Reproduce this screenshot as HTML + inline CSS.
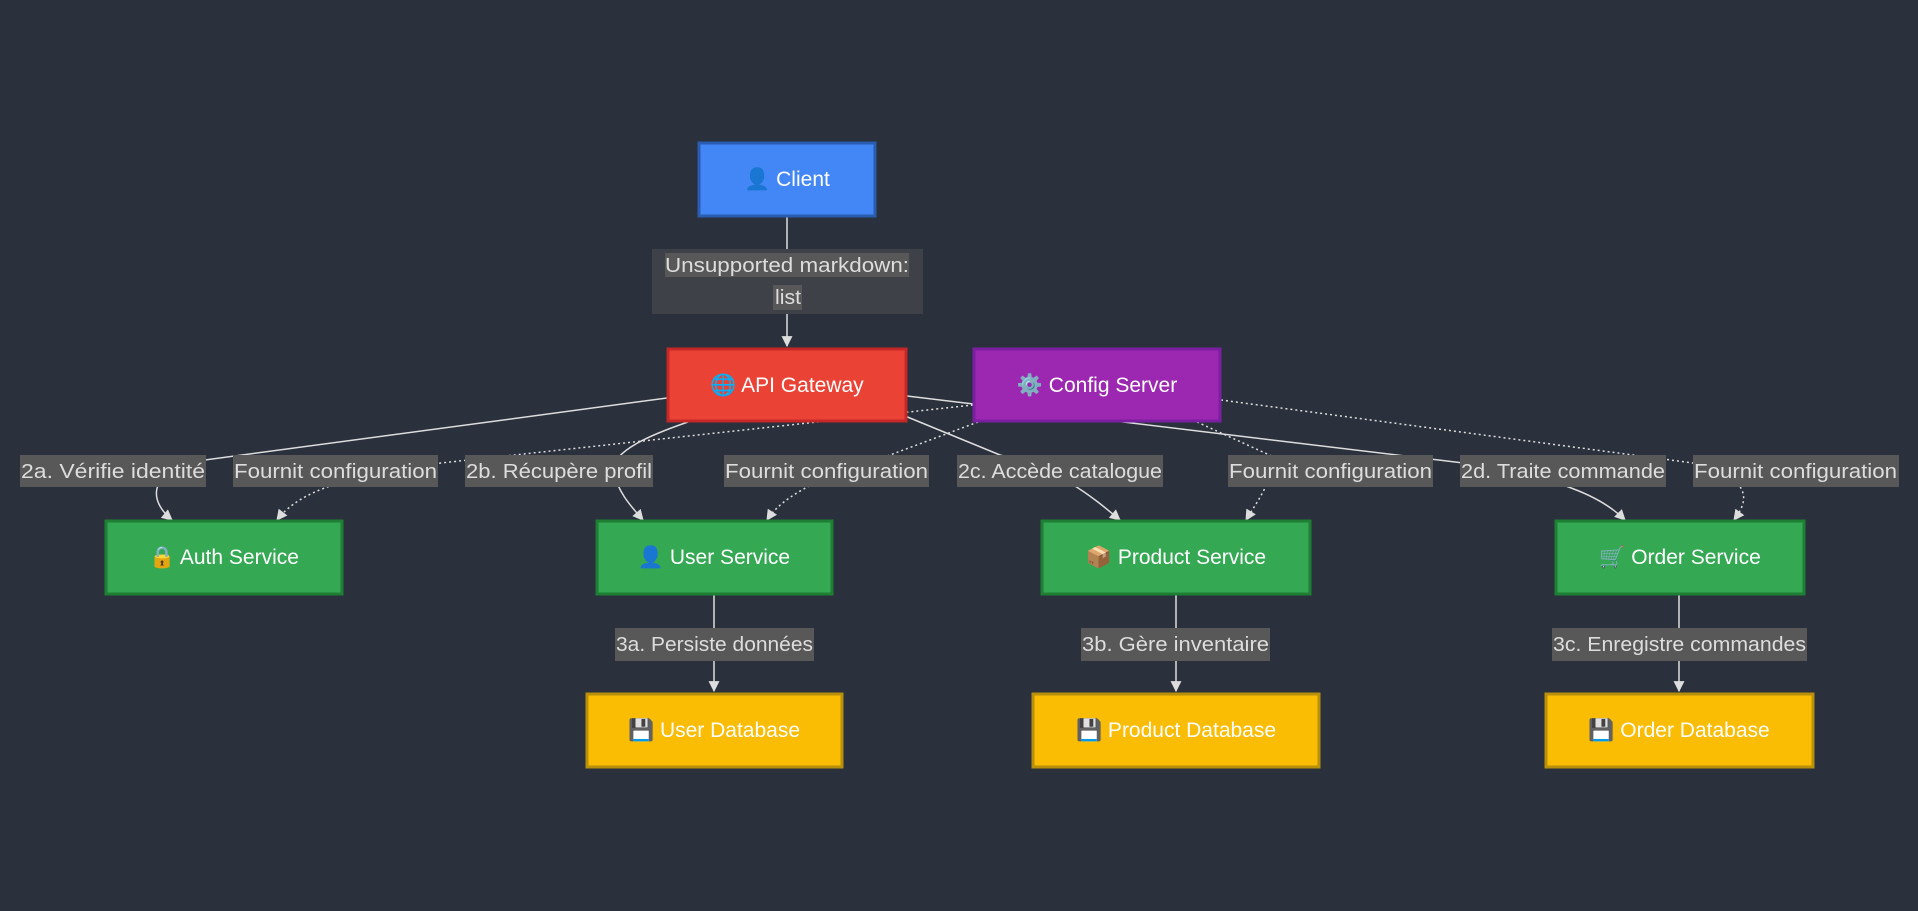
<!DOCTYPE html>
<html><head><meta charset="utf-8"><style>
html,body{margin:0;padding:0;background:#2a303c;}
svg{display:block}
text{font-family:"Liberation Sans","Noto Sans CJK SC",sans-serif;}
</style></head><body>
<svg width="1918" height="911" viewBox="0 0 1918 911" xmlns="http://www.w3.org/2000/svg">
<defs>
<marker id="a" viewBox="0 0 10 10" refX="9" refY="5" markerWidth="13" markerHeight="11" orient="auto-start-reverse" markerUnits="userSpaceOnUse"><path d="M0,0L10,5L0,10z" fill="#ddd"/></marker>
</defs>
<rect width="1918" height="911" fill="#2a303c"/>
<g fill="none" stroke="#ddd" stroke-width="1.5">
<path d="M787,216 L787,346" marker-end="url(#a)"/>
<path d="M667,398 L190,462 C150,475 148,500 172,520" marker-end="url(#a)"/>
<path d="M688,422 C650,435 615,450 612,470 C620,495 630,505 643,520" marker-end="url(#a)"/>
<path d="M905,416 L1000,455 C1060,470 1090,495 1120,520" marker-end="url(#a)"/>
<path d="M907,396 L1480,465 C1560,480 1600,495 1625,520" marker-end="url(#a)"/>
<path d="M714,595 L714,691" marker-end="url(#a)"/>
<path d="M1176,595 L1176,691" marker-end="url(#a)"/>
<path d="M1679,595 L1679,691" marker-end="url(#a)"/>
</g>
<g fill="none" stroke="#ddd" stroke-width="1.5" stroke-dasharray="2,3">
<path d="M973,405 L441,463 C350,475 300,490 277,520" marker-end="url(#a)"/>
<path d="M978,422 L882,458 C810,480 780,500 767,520" marker-end="url(#a)"/>
<path d="M1197,422 L1276,458 C1270,485 1255,505 1246,520" marker-end="url(#a)"/>
<path d="M1221,400 L1693,463 C1760,480 1745,505 1734,520" marker-end="url(#a)"/>
</g>
<g stroke-width="3">
<rect x="699" y="143" width="176" height="73" fill="#4287f5" stroke="#2a5cb0"/>
<rect x="668" y="349" width="238" height="72" fill="#ea4335" stroke="#c62828"/>
<rect x="974" y="349" width="246" height="72" fill="#9c27b0" stroke="#7b1fa2"/>
<rect x="106" y="521" width="236" height="73" fill="#34a853" stroke="#1e7e34"/>
<rect x="597" y="521" width="235" height="73" fill="#34a853" stroke="#1e7e34"/>
<rect x="1042" y="521" width="268" height="73" fill="#34a853" stroke="#1e7e34"/>
<rect x="1556" y="521" width="248" height="73" fill="#34a853" stroke="#1e7e34"/>
<rect x="587" y="694" width="255" height="73" fill="#fbbc04" stroke="#b8900a"/>
<rect x="1033" y="694" width="286" height="73" fill="#fbbc04" stroke="#b8900a"/>
<rect x="1546" y="694" width="267" height="73" fill="#fbbc04" stroke="#b8900a"/>
</g>
<rect x="652" y="249" width="271" height="65" fill="#3f4148"/>
<rect x="665" y="253" width="244" height="24" fill="#585858"/>
<rect x="773" y="285" width="29" height="25" fill="#585858"/>
<g fill="#585858">
<rect x="20" y="455" width="186" height="32"/>
<rect x="233" y="455" width="205" height="32"/>
<rect x="465" y="455" width="188" height="32"/>
<rect x="724" y="455" width="205" height="32"/>
<rect x="957" y="455" width="206" height="32"/>
<rect x="1228" y="455" width="205" height="32"/>
<rect x="1460" y="455" width="206" height="32"/>
<rect x="1693" y="455" width="206" height="32"/>
<rect x="615" y="628" width="199" height="33"/>
<rect x="1081" y="628" width="189" height="33"/>
<rect x="1552" y="628" width="255" height="33"/>
</g>
<g fill="#ddd" font-size="20">
<text x="665" y="272" textLength="244" lengthAdjust="spacingAndGlyphs">Unsupported markdown:</text>
<text x="775" y="304" textLength="26" lengthAdjust="spacingAndGlyphs">list</text>
<text x="21" y="478" textLength="184" lengthAdjust="spacingAndGlyphs">2a. Vérifie identité</text>
<text x="234" y="478" textLength="203" lengthAdjust="spacingAndGlyphs">Fournit configuration</text>
<text x="466" y="478" textLength="186" lengthAdjust="spacingAndGlyphs">2b. Récupère profil</text>
<text x="725" y="478" textLength="203" lengthAdjust="spacingAndGlyphs">Fournit configuration</text>
<text x="958" y="478" textLength="204" lengthAdjust="spacingAndGlyphs">2c. Accède catalogue</text>
<text x="1229" y="478" textLength="203" lengthAdjust="spacingAndGlyphs">Fournit configuration</text>
<text x="1461" y="478" textLength="204" lengthAdjust="spacingAndGlyphs">2d. Traite commande</text>
<text x="1694" y="478" textLength="203" lengthAdjust="spacingAndGlyphs">Fournit configuration</text>
<text x="616" y="651" textLength="197" lengthAdjust="spacingAndGlyphs">3a. Persiste données</text>
<text x="1082" y="651" textLength="187" lengthAdjust="spacingAndGlyphs">3b. Gère inventaire</text>
<text x="1553" y="651" textLength="253" lengthAdjust="spacingAndGlyphs">3c. Enregistre commandes</text>
</g>
<g fill="#fff" font-size="21" text-anchor="middle">
<text x="787" y="186">👤 Client</text>
<text x="787" y="392">🌐 API Gateway</text>
<text x="1097" y="392">⚙️ Config Server</text>
<text x="224" y="564">🔒 Auth Service</text>
<text x="714" y="564">👤 User Service</text>
<text x="1176" y="564">📦 Product Service</text>
<text x="1680" y="564">🛒 Order Service</text>
<text x="714" y="737">💾 User Database</text>
<text x="1176" y="737">💾 Product Database</text>
<text x="1679" y="737">💾 Order Database</text>
</g>
</svg>
</body></html>
